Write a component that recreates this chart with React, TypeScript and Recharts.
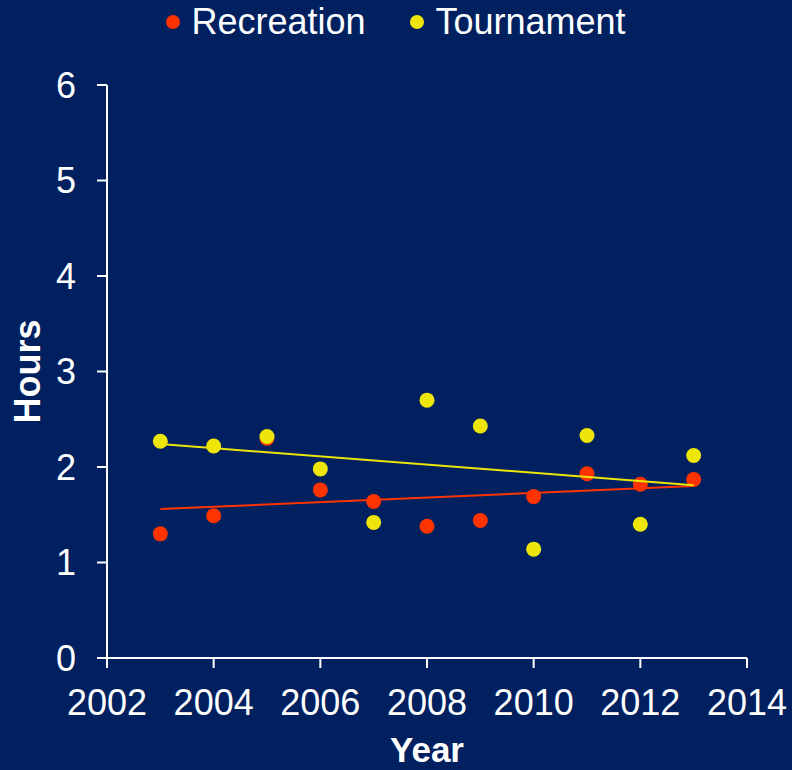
import React from "react";
import { ScatterChart, Scatter, XAxis, YAxis } from "recharts";

const BG = "#002060";
const RED = "#FF3300";
const YELLOW = "#EEE60A";
const FONT = "'Liberation Sans', Arial, sans-serif";

const years = [2003, 2004, 2005, 2006, 2007, 2008, 2009, 2010, 2011, 2012, 2013];
const recreation = [1.3, 1.49, 2.3, 1.76, 1.64, 1.38, 1.44, 1.69, 1.93, 1.82, 1.87];
const tournament = [2.27, 2.22, 2.32, 1.98, 1.42, 2.7, 2.43, 1.14, 2.33, 1.4, 2.12];

// trendline end points
const trendYears = [2003, 2013];
const recreationTrend = [1.56, 1.8];
const tournamentTrend = [2.24, 1.81];

const xTicks = [2002, 2004, 2006, 2008, 2010, 2012, 2014];
const yTicks = [0, 1, 2, 3, 4, 5, 6];

const seriesNames = ["Recreation", "Tournament"];
const seriesColors = [RED, YELLOW];

const toPoints = (xs: number[], ys: number[]) => xs.map((x, i) => ({ year: x, hours: ys[i] }));

const recData = toPoints(years, recreation);
const tourData = toPoints(years, tournament);
const recTrendData = toPoints(trendYears, recreationTrend);
const tourTrendData = toPoints(trendYears, tournamentTrend);

const dot = (color: string) => (props: any) => (
  <circle cx={props.cx} cy={props.cy} r={7.5} fill={color} />
);
const noDot = () => <g />;

const tickStyle = { fill: "#FFFFFF", fontSize: 36, fontFamily: FONT };
const axisStroke = { stroke: "#FFFFFF", strokeWidth: 2 };

export default function App() {
  return (
    <div style={{ position: "absolute", left: 0, top: 0, width: 792, height: 770, background: BG }}>
      <div
        style={{
          position: "absolute",
          top: 4,
          left: 0,
          width: 792,
          display: "flex",
          justifyContent: "center",
          alignItems: "center",
          fontFamily: FONT,
          fontSize: 36,
          color: "#FFFFFF",
          lineHeight: "36px",
          zIndex: 2,
        }}
      >
        {seriesNames.map((name, i) => (
          <div key={name} style={{ display: "flex", alignItems: "center", marginRight: i === 0 ? 45 : 0 }}>
            <span
              style={{
                display: "inline-block",
                width: 14,
                height: 14,
                borderRadius: 7,
                background: seriesColors[i],
                marginRight: 11,
              }}
            />
            <span>{name}</span>
          </div>
        ))}
      </div>
      <ScatterChart width={792} height={770} margin={{ top: 85, right: 45, bottom: 0, left: 0 }}>
        <XAxis
          type="number"
          dataKey="year"
          domain={[2002, 2014]}
          ticks={xTicks}
          height={112}
          tick={tickStyle}
          tickSize={10}
          tickMargin={21}
          axisLine={axisStroke}
          tickLine={axisStroke}
          interval={0}
          label={(props: any) => {
            const vb = props.viewBox;
            return (
              <text
                x={vb.x + vb.width / 2}
                y={762}
                textAnchor="middle"
                fill="#FFFFFF"
                fontSize={35}
                fontWeight="bold"
                fontFamily={FONT}
              >
                Year
              </text>
            );
          }}
        />
        <YAxis
          type="number"
          dataKey="hours"
          domain={[0, 6]}
          ticks={yTicks}
          width={107}
          tick={tickStyle}
          tickSize={10}
          tickMargin={21}
          axisLine={axisStroke}
          tickLine={axisStroke}
          interval={0}
          label={(props: any) => {
            const vb = props.viewBox;
            const cx = vb.x + 40;
            const cy = vb.y + vb.height / 2;
            return (
              <text
                x={cx}
                y={cy}
                transform={`rotate(-90, ${cx}, ${cy})`}
                textAnchor="middle"
                fill="#FFFFFF"
                fontSize={36}
                fontWeight="bold"
                fontFamily={FONT}
              >
                Hours
              </text>
            );
          }}
        />
        <Scatter name="Recreation" data={recData} shape={dot(RED)} isAnimationActive={false} />
        <Scatter name="Tournament" data={tourData} shape={dot(YELLOW)} isAnimationActive={false} />
        <Scatter
          data={recTrendData}
          line={{ stroke: RED, strokeWidth: 2 }}
          shape={noDot}
          isAnimationActive={false}
        />
        <Scatter
          data={tourTrendData}
          line={{ stroke: YELLOW, strokeWidth: 2 }}
          shape={noDot}
          isAnimationActive={false}
        />
      </ScatterChart>
    </div>
  );
}
